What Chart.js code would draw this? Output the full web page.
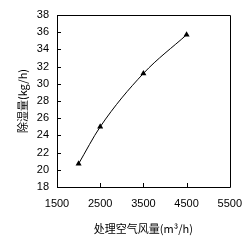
<!DOCTYPE html>
<html><head><meta charset="utf-8">
<script src="https://cdn.jsdelivr.net/npm/chart.js@4"></script>
<style>html,body{margin:0;padding:0;background:#fff}#wrap{width:252px;height:247px}</style>
</head><body><div id="wrap"><canvas id="c" width="252" height="247"></canvas></div>
<script>
const airFlow = [2000, 2500, 3500, 4500];
const dehumid = [20.7, 25.0, 31.2, 35.7];
const xTitle = '处理空气风量(m³/h)';
const yTitle = '除湿量(kg/h)';
const xMin = 1500, xMax = 5500, xStep = 1000;
const yMin = 18, yMax = 38, yStep = 2;

const frame = {
  id: 'frame',
  afterDatasetsDraw(chart) {
    const {ctx, chartArea: a, scales} = chart;
    ctx.save();
    ctx.strokeStyle = '#000';
    ctx.lineWidth = 1;
    ctx.beginPath();
    ctx.rect(Math.round(a.left) + 0.5, Math.round(a.top) + 0.5, Math.round(a.right - a.left), Math.round(a.bottom - a.top));
    ctx.stroke();
    ctx.beginPath();
    scales.x.ticks.forEach(t => {
      const px = Math.round(scales.x.getPixelForValue(t.value)) + 0.5;
      ctx.moveTo(px, a.bottom); ctx.lineTo(px, a.bottom - 4);
    });
    scales.y.ticks.forEach(t => {
      const py = Math.round(scales.y.getPixelForValue(t.value)) + 0.5;
      ctx.moveTo(a.left, py); ctx.lineTo(a.left + 4, py);
    });
    ctx.stroke();
    ctx.restore();
  }
};

new Chart(document.getElementById('c'), {
  type: 'line',
  data: {
    datasets: [{
      data: airFlow.map((x, i) => ({x, y: dehumid[i]})),
      borderColor: '#000',
      backgroundColor: '#000',
      borderWidth: 1,
      tension: 0.4,
      cubicInterpolationMode: 'monotone',
      pointStyle: 'triangle',
      pointRadius: 3.5,
      pointBorderWidth: 0,
      fill: false
    }]
  },
  options: {
    responsive: false,
    animation: false,
    events: [],
    layout: {padding: {left: 0, right: 19, top: 15, bottom: 0}},
    plugins: {legend: {display: false}, tooltip: {enabled: false}},
    scales: {
      x: {
        type: 'linear', min: xMin, max: xMax,
        afterFit(s) { s.height = 60; },
        grid: {display: false, drawTicks: false},
        border: {display: false},
        ticks: {stepSize: xStep, color: '#000', padding: 10, maxRotation: 0,
                callback: v => String(v),
                font: {family: 'Liberation Sans', size: 11}},
        title: {display: true, text: xTitle, color: '#000',
                font: {family: 'Noto Sans CJK SC', size: 11},
                padding: {top: 0, bottom: 12}}
      },
      y: {
        type: 'linear', min: yMin, max: yMax,
        afterFit(s) { s.width = 57; },
        grid: {display: false, drawTicks: false},
        border: {display: false},
        ticks: {stepSize: yStep, color: '#000', padding: 8,
                callback: v => String(v),
                font: {family: 'Liberation Sans', size: 11}},
        title: {display: true, text: yTitle, color: '#000',
                font: {family: 'Noto Sans CJK SC', size: 11},
                padding: {top: 16, bottom: 0}}
      }
    }
  },
  plugins: [frame]
});
</script></body></html>
